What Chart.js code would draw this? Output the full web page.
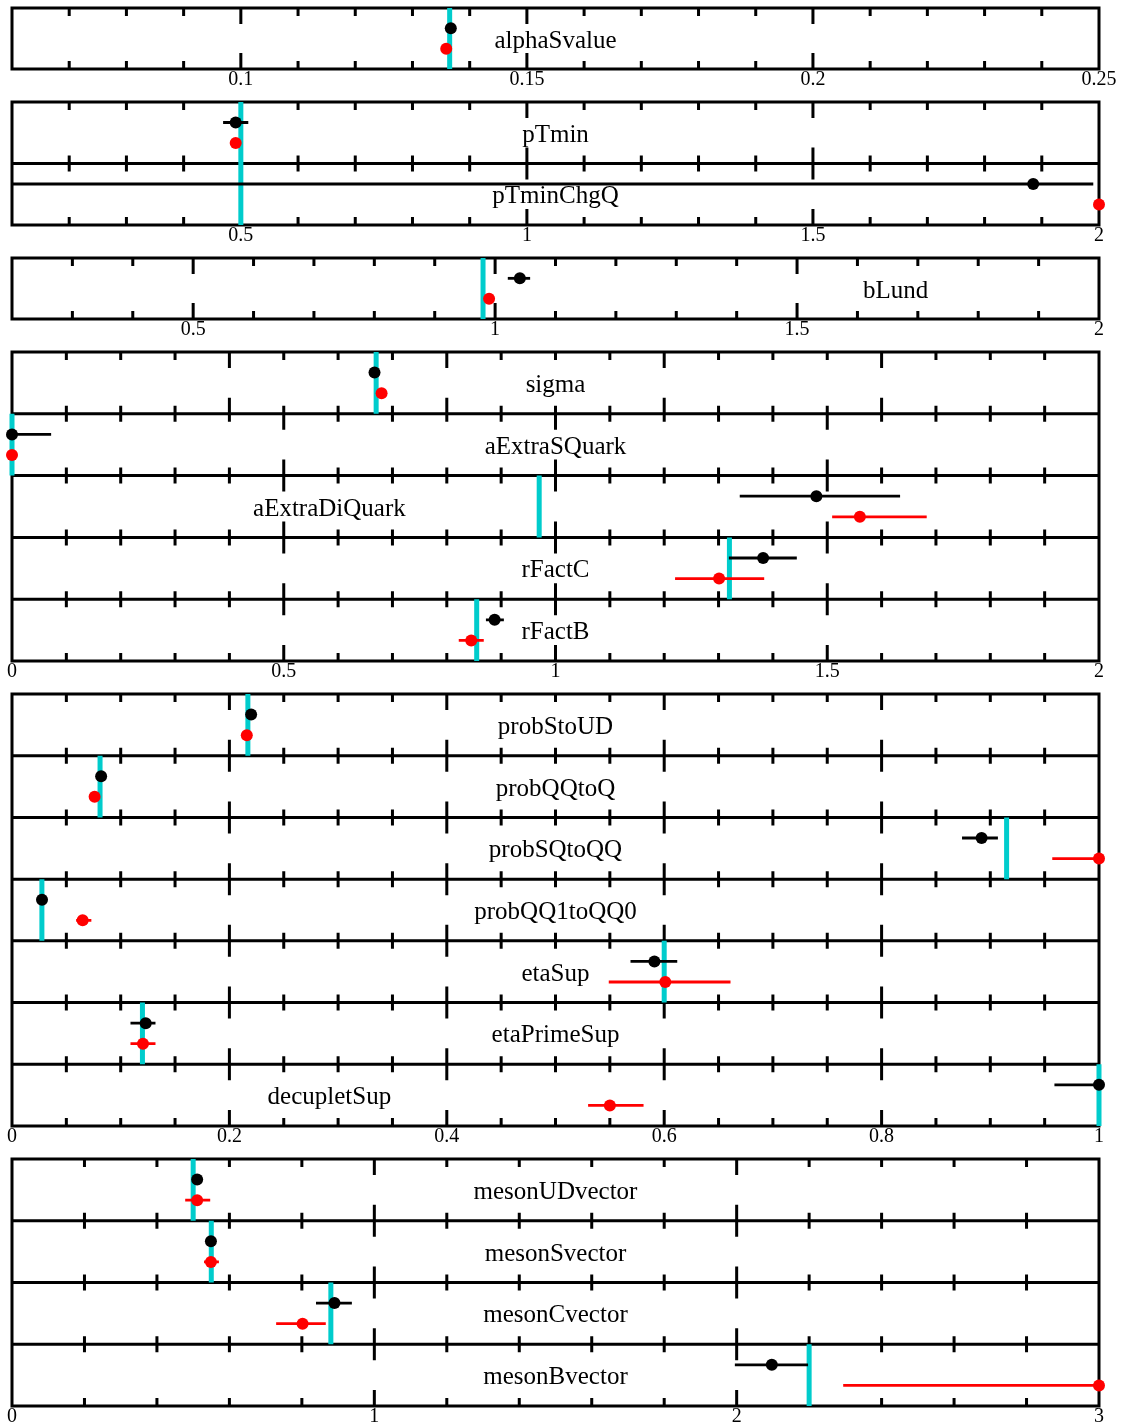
<!DOCTYPE html>
<html>
<head>
<meta charset="utf-8">
<script src="https://cdn.jsdelivr.net/npm/chart.js@4.4.0/dist/chart.umd.min.js"></script>
<style>
  body { margin: 0; background: #fff; }
  #wrap { position: relative; width: 1124px; height: 1426px; }
  #wrap canvas { position: absolute; left: 0; }
</style>
</head>
<body>
<div id="wrap"></div>
<script>
// parameter names, top to bottom
var names = ["alphaSvalue", "pTmin", "pTminChgQ", "bLund", "sigma", "aExtraSQuark", "aExtraDiQuark", "rFactC", "rFactB",
  "probStoUD", "probQQtoQ", "probSQtoQQ", "probQQ1toQQ0", "etaSup", "etaPrimeSup", "decupletSup",
  "mesonUDvector", "mesonSvector", "mesonCvector", "mesonBvector"];

// default values (cyan lines)
var defaults = [0.1365, 0.5, 0.5, 0.98, 0.67, 0.0, 0.97, 1.32, 0.855,
  0.217, 0.081, 0.915, 0.0275, 0.60, 0.12, 1.0,
  0.50, 0.55, 0.88, 2.20];

// black tune: value, lower and upper end of error bar
var tuneA = [0.1367, 0.491, 1.885, 1.041, 0.667, 0.0, 1.48, 1.382, 0.888,
  0.220, 0.082, 0.892, 0.0276, 0.591, 0.123, 1.0,
  0.511, 0.549, 0.890, 2.097];
var tuneALo = [0.1365, 0.469, 0.1, 1.021, 0.665, 0.0, 1.339, 1.319, 0.872,
  0.219, 0.081, 0.874, 0.027, 0.569, 0.109, 0.959,
  0.500, 0.545, 0.839, 1.995];
var tuneAHi = [0.1369, 0.513, 1.99, 1.058, 0.669, 0.072, 1.634, 1.444, 0.905,
  0.221, 0.083, 0.907, 0.028, 0.612, 0.132, 1.0,
  0.522, 0.553, 0.938, 2.197];

// red tune
var tuneB = [0.1359, 0.491, 2.0, 0.990, 0.680, 0.0, 1.56, 1.301, 0.845,
  0.216, 0.076, 1.0, 0.065, 0.601, 0.1205, 0.550,
  0.511, 0.549, 0.802, 3.0];
var tuneBLo = [0.1357, 0.487, 2.0, 0.982, 0.678, 0.0, 1.509, 1.220, 0.822,
  0.215, 0.075, 0.957, 0.059, 0.549, 0.109, 0.530,
  0.478, 0.530, 0.729, 2.294];
var tuneBHi = [0.1361, 0.495, 2.0, 0.998, 0.682, 0.0, 1.683, 1.384, 0.868,
  0.217, 0.077, 1.0, 0.073, 0.661, 0.132, 0.581,
  0.547, 0.571, 0.866, 3.0];

// panels: how many rows each, axis range, minor step and labelled ticks
var panelRows = [1, 2, 1, 5, 7, 4];
var axisMin = [0.06, 0.1, 0.2, 0, 0, 0];
var axisMax = [0.25, 2, 2, 2, 1, 3];
var minorStep = [0.01, 0.1, 0.1, 0.1, 0.05, 0.2];
var tickLabels = [
  ["0.1", "0.15", "0.2", "0.25"],
  ["0.5", "1", "1.5", "2"],
  ["0.5", "1", "1.5", "2"],
  ["0", "0.5", "1", "1.5", "2"],
  ["0", "0.2", "0.4", "0.6", "0.8", "1"],
  ["0", "1", "2", "3"]
];
var majorStep = [0.05, 0.5, 0.5, 0.5, 0.2, 1];
var majorOverride = { sigma: 0.4 };

// layout
var panelTop = [8, 102, 258, 352, 694, 1159];
var rowH = 61.8;
var boxLeft = 12, boxRight = 1099;
var labelAt = { aExtraDiQuark: 0.292, decupletSup: 0.292, bLund: 0.813 };
var CYAN = "rgb(0,204,204)";
var SERIF = "'Liberation Serif', 'Times New Roman', serif";

Chart.defaults.font.family = SERIF;

function isMultiple(v, step) {
  var r = v / step;
  return Math.abs(r - Math.round(r)) < 1e-6;
}

function makePanel(p, first) {
  var n = panelRows[p];
  var rows = names.slice(first, first + n);
  var padTop = 12, axisH = 34;
  var canvas = document.createElement("canvas");
  canvas.width = 1124;
  canvas.height = padTop + n * rowH + axisH;
  canvas.style.top = (panelTop[p] - padTop) + "px";
  document.getElementById("wrap").appendChild(canvas);

  var ptsA = [], ptsB = [], barsA = [], barsB = [], cyan = [];
  rows.forEach(function (name, i) {
    var k = first + i;
    ptsA.push({ x: tuneA[k], y: i + 1 / 3 });
    ptsB.push({ x: tuneB[k], y: i + 2 / 3 });
    barsA.push({ x: tuneALo[k], y: i + 1 / 3 }, { x: tuneAHi[k], y: i + 1 / 3 }, { x: tuneAHi[k], y: null });
    barsB.push({ x: tuneBLo[k], y: i + 2 / 3 }, { x: tuneBHi[k], y: i + 2 / 3 }, { x: tuneBHi[k], y: null });
    cyan.push({ x: defaults[k], y: i }, { x: defaults[k], y: i + 1 }, { x: defaults[k], y: null });
  });

  var tickVals = [];
  for (var v = axisMin[p]; v <= axisMax[p] + 1e-9; v += minorStep[p]) {
    tickVals.push(Math.round(v * 1e6) / 1e6);
  }
  var majorVals = tickLabels[p].map(Number);

  var framePlugin = {
    id: "frame" + p,
    beforeDatasetsDraw: function (chart) {
      var ctx = chart.ctx, a = chart.chartArea;
      var x = chart.scales.x, y = chart.scales.y;
      ctx.save();
      ctx.strokeStyle = "#000";
      ctx.lineWidth = 3;
      ctx.lineCap = "butt";
      // tick marks inside every row, top and bottom
      rows.forEach(function (name, i) {
        var top = y.getPixelForValue(i), bot = y.getPixelForValue(i + 1);
        var maj = majorOverride[name] || majorStep[p];
        x.ticks.forEach(function (t) {
          var px = x.getPixelForValue(t.value);
          if (px < a.left + 2 || px > a.right - 2) return;
          var len = isMultiple(t.value, maj) ? 16 : 8;
          ctx.beginPath();
          ctx.moveTo(px, top); ctx.lineTo(px, top + len);
          ctx.moveTo(px, bot); ctx.lineTo(px, bot - len);
          ctx.stroke();
        });
      });
      // row frames
      ctx.lineCap = "square";
      ctx.beginPath();
      for (var b = 0; b <= n; b++) {
        var py = y.getPixelForValue(b);
        ctx.moveTo(a.left, py); ctx.lineTo(a.right, py);
      }
      ctx.moveTo(a.left, a.top); ctx.lineTo(a.left, a.bottom);
      ctx.moveTo(a.right, a.top); ctx.lineTo(a.right, a.bottom);
      ctx.stroke();
      // parameter names
      ctx.fillStyle = "#000";
      ctx.font = "25px " + SERIF;
      ctx.textAlign = "center";
      ctx.textBaseline = "alphabetic";
      rows.forEach(function (name, i) {
        var f = labelAt[name] !== undefined ? labelAt[name] : 0.5;
        var cx = a.left + f * (a.right - a.left);
        var cy = (y.getPixelForValue(i) + y.getPixelForValue(i + 1)) / 2;
        ctx.fillText(name, cx, cy + 9);
      });
      ctx.restore();
    }
  };

  new Chart(canvas, {
    type: "scatter",
    data: {
      datasets: [
        { data: ptsA, backgroundColor: "#000", pointRadius: 6, pointBorderWidth: 0, clip: false },
        { data: ptsB, backgroundColor: "#ff0000", pointRadius: 6, pointBorderWidth: 0, clip: false },
        { type: "line", data: barsA, borderColor: "#000", borderWidth: 2.8, pointRadius: 0, spanGaps: false, clip: false },
        { type: "line", data: barsB, borderColor: "#ff0000", borderWidth: 2.8, pointRadius: 0, spanGaps: false, clip: false },
        { type: "line", data: cyan, borderColor: CYAN, borderWidth: 5, pointRadius: 0, spanGaps: false, clip: false, borderCapStyle: "butt" }
      ]
    },
    options: {
      responsive: false,
      animation: false,
      devicePixelRatio: 1,
      events: [],
      layout: { padding: { top: padTop, left: boxLeft, right: 1124 - boxRight, bottom: 0 } },
      plugins: { legend: { display: false }, tooltip: { enabled: false } },
      scales: {
        x: {
          type: "linear",
          min: axisMin[p],
          max: axisMax[p],
          grid: { display: false, drawTicks: false },
          border: { display: false },
          afterBuildTicks: function (scale) {
            scale.ticks = tickVals.map(function (v) { return { value: v }; });
          },
          afterFit: function (scale) { scale.height = axisH; },
          ticks: {
            autoSkip: false,
            maxRotation: 0,
            padding: -1,
            color: "#000",
            font: { family: SERIF, size: 20 },
            callback: function (value) {
              for (var j = 0; j < majorVals.length; j++) {
                if (Math.abs(majorVals[j] - value) < 1e-6) return tickLabels[p][j];
              }
              return "";
            }
          }
        },
        y: { type: "linear", min: 0, max: n, reverse: true, display: false }
      }
    },
    plugins: [framePlugin]
  });
}

var first = 0;
for (var p = 0; p < panelRows.length; p++) {
  makePanel(p, first);
  first += panelRows[p];
}
</script>
</body>
</html>
